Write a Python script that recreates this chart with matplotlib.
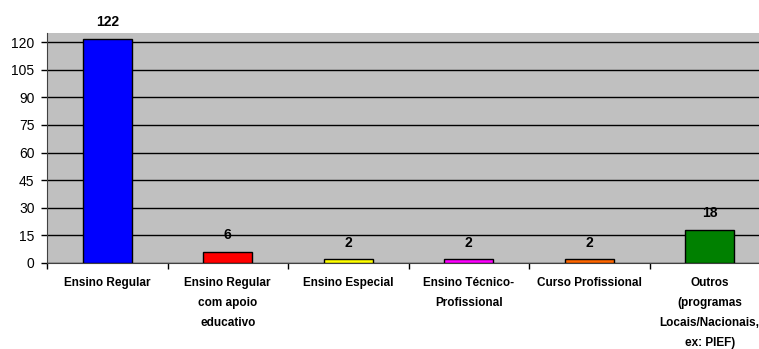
import matplotlib.pyplot as plt
import numpy as np

categories = [
    "Ensino Regular",
    "Ensino Regular\ncom apoio\neducativo",
    "Ensino Especial",
    "Ensino Técnico-\nProfissional",
    "Curso Profissional",
    "Outros\n(programas\nLocais/Nacionais,\nex: PIEF)",
]
values = [122, 6, 2, 2, 2, 18]
colors = ["#0000FF", "#FF0000", "#FFFF00", "#FF00FF", "#FF6600", "#008000"]
yticks = [0, 15, 30, 45, 60, 75, 90, 105, 120]

plt.rcParams["font.family"] = ["Liberation Sans", "DejaVu Sans"]

fig = plt.figure(figsize=(7.59, 3.49), dpi=100)
ax = fig.add_axes([47 / 759, 86 / 349, 723 / 759, 230 / 349])
ax.set_facecolor("#C0C0C0")

x = np.arange(len(categories))
ax.bar(x, values, width=0.41, color=colors, edgecolor="black", linewidth=1, zorder=3)
for xi, v in zip(x, values):
    ax.annotate(str(v), (xi, v), xytext=(0, 7), textcoords="offset points",
                ha="center", va="bottom", fontsize=10, fontweight="bold")

ax.set_xlim(-0.5, len(categories) - 0.5)
ax.set_ylim(0, 125)
ax.set_yticks(yticks)
ax.yaxis.grid(True, color="black", linewidth=1, zorder=0)
ax.set_axisbelow(True)
ax.tick_params(axis="y", labelsize=10, length=4, width=1, direction="out", pad=5)

ax.set_xticks(np.arange(len(categories) + 1) - 0.5)
ax.set_xticklabels([])
ax.set_xticks(x, minor=True)
ax.set_xticklabels(categories, minor=True, fontsize=8.5, fontweight="bold", linespacing=1.9)
ax.tick_params(axis="x", which="major", length=4, width=1, direction="out")
ax.tick_params(axis="x", which="minor", length=0, pad=10)

for s in ["top", "right"]:
    ax.spines[s].set_visible(False)
ax.spines["left"].set_color("#404040")
ax.spines["bottom"].set_color("#404040")

plt.savefig("out.png", dpi=100)
